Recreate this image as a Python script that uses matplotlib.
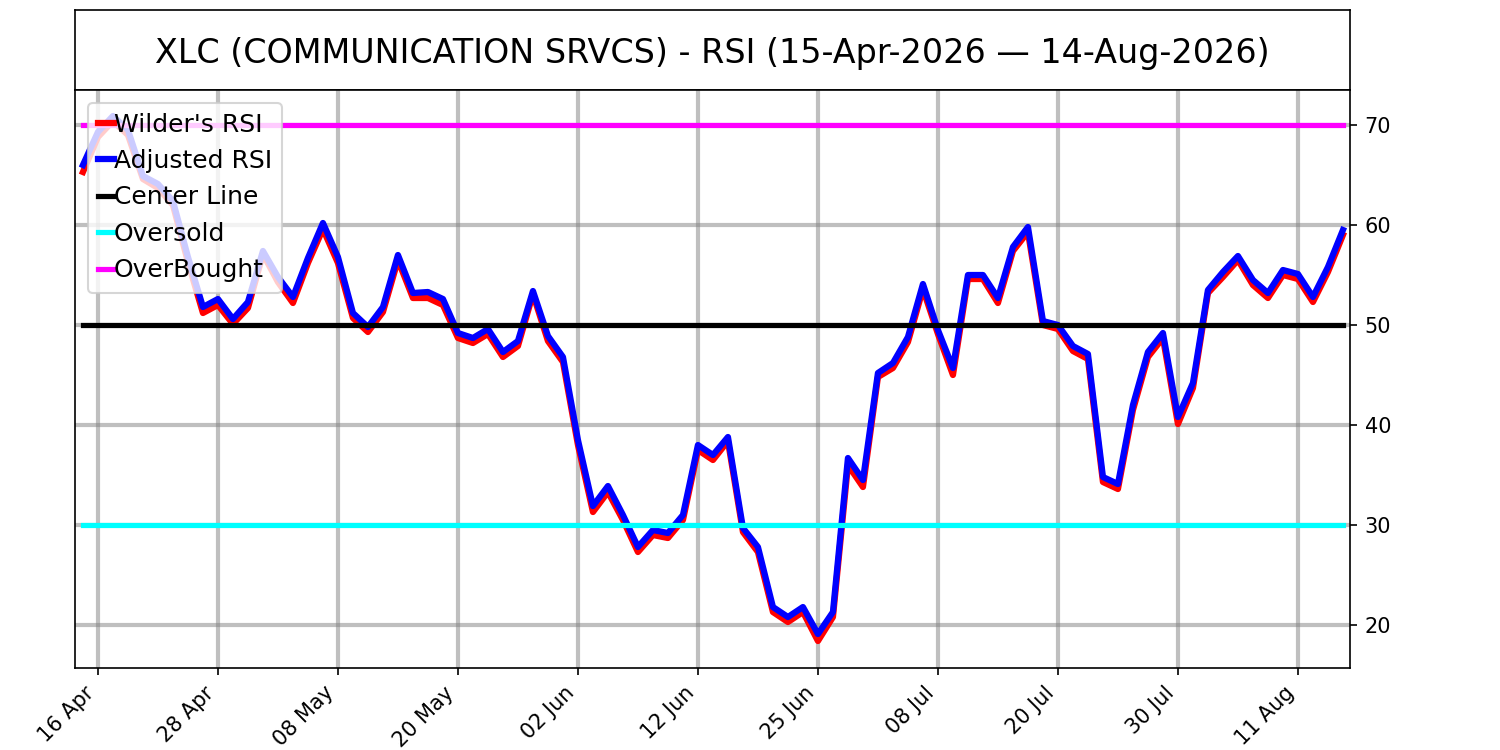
import matplotlib
matplotlib.use("Agg")
import matplotlib.pyplot as plt
import numpy as np
import pandas as pd

# trading days, 15-Apr-2026 .. 14-Aug-2026 (NYSE holidays skipped)
holidays = ["2026-05-25", "2026-06-19", "2026-07-03"]
dates = pd.bdate_range("2026-04-15", "2026-08-14", freq="C", holidays=holidays)

wilder_rsi = [65.3, 68.8, 70.4, 69.0, 64.6, 63.7, 62.0, 56.3, 51.2, 52.0,
              50.1, 51.7, 57.1, 54.3, 52.2, 56.2, 59.6, 56.2, 50.7, 49.3,
              51.3, 56.5, 52.7, 52.7, 52.0, 48.7, 48.2, 49.1, 46.8, 47.9,
              53.1, 48.4, 46.3, 38.0, 31.3, 33.3, 30.5, 27.3, 29.0, 28.7,
              30.5, 37.5, 36.5, 38.4, 29.3, 27.3, 21.3, 20.3, 21.3, 18.4,
              20.8, 36.0, 33.8, 44.8, 45.7, 48.3, 53.6, 49.1, 45.0, 54.6,
              54.6, 52.2, 57.4, 59.3, 50.0, 49.6, 47.4, 46.6, 34.3, 33.6,
              41.5, 46.8, 48.7, 40.1, 43.7, 53.2, 54.8, 56.5, 54.0, 52.7,
              55.0, 54.6, 52.3, 55.3, 59.0]
adjusted_rsi = [66.0, 69.3, 70.9, 69.5, 64.9, 64.1, 62.4, 56.8, 51.8, 52.6,
                50.6, 52.3, 57.4, 54.8, 52.8, 56.7, 60.2, 56.8, 51.2, 49.8,
                51.8, 57.0, 53.2, 53.3, 52.6, 49.2, 48.7, 49.6, 47.3, 48.4,
                53.4, 48.9, 46.8, 38.5, 31.9, 33.9, 31.0, 27.8, 29.5, 29.2,
                31.0, 38.0, 37.0, 38.8, 29.7, 27.8, 21.8, 20.8, 21.8, 19.1,
                21.3, 36.7, 34.5, 45.2, 46.2, 48.8, 54.1, 49.5, 45.7, 55.0,
                55.0, 52.7, 57.8, 59.8, 50.4, 50.0, 47.9, 47.1, 34.8, 34.1,
                42.0, 47.3, 49.2, 40.8, 44.2, 53.5, 55.3, 56.9, 54.5, 53.2,
                55.5, 55.1, 52.8, 55.8, 59.5]
center_level = 50
oversold_level = 30
overbought_level = 70

tick_pos = list(range(1, len(dates), 8))
tick_labels = [dates[i].strftime("%d %b") for i in tick_pos]

x = np.arange(len(dates))

fig = plt.figure(figsize=(10, 5), dpi=150)
tax = fig.add_axes([0.05, 0.88, 0.85, 0.1067])
tax.set_xticks([])
tax.set_yticks([])
tax.text(0.5, 0.46, "XLC (COMMUNICATION SRVCS) - RSI (15-Apr-2026 \u2014 14-Aug-2026)",
         ha="center", va="center", fontsize=16, transform=tax.transAxes)

ax = fig.add_axes([0.05, 0.1093, 0.85, 0.7707])
ax.plot(x, wilder_rsi, color="red", lw=3, label="Wilder's RSI")
ax.plot(x, adjusted_rsi, color="blue", lw=3, label="Adjusted RSI")
ax.plot(x, [center_level] * len(x), color="black", lw=2.5, label="Center Line")
ax.plot(x, [oversold_level] * len(x), color="cyan", lw=2.5, label="Oversold")
ax.plot(x, [overbought_level] * len(x), color="magenta", lw=2.5, label="OverBought")

ax.set_xlim(-0.53, 84.47)
ax.set_ylim(15.7, 73.5)
ax.set_xticks(tick_pos)
ax.set_xticklabels(tick_labels, rotation=45, ha="right")
ax.set_yticks([20, 30, 40, 50, 60, 70])
ax.yaxis.tick_right()
ax.grid(True, color="gray", alpha=0.5, lw=2)
ax.set_axisbelow(True)

ax.legend(loc="upper left", fontsize=12, handlelength=0.65, handletextpad=0.0,
          labelspacing=0.5)

fig.savefig("out.png", dpi=150)
